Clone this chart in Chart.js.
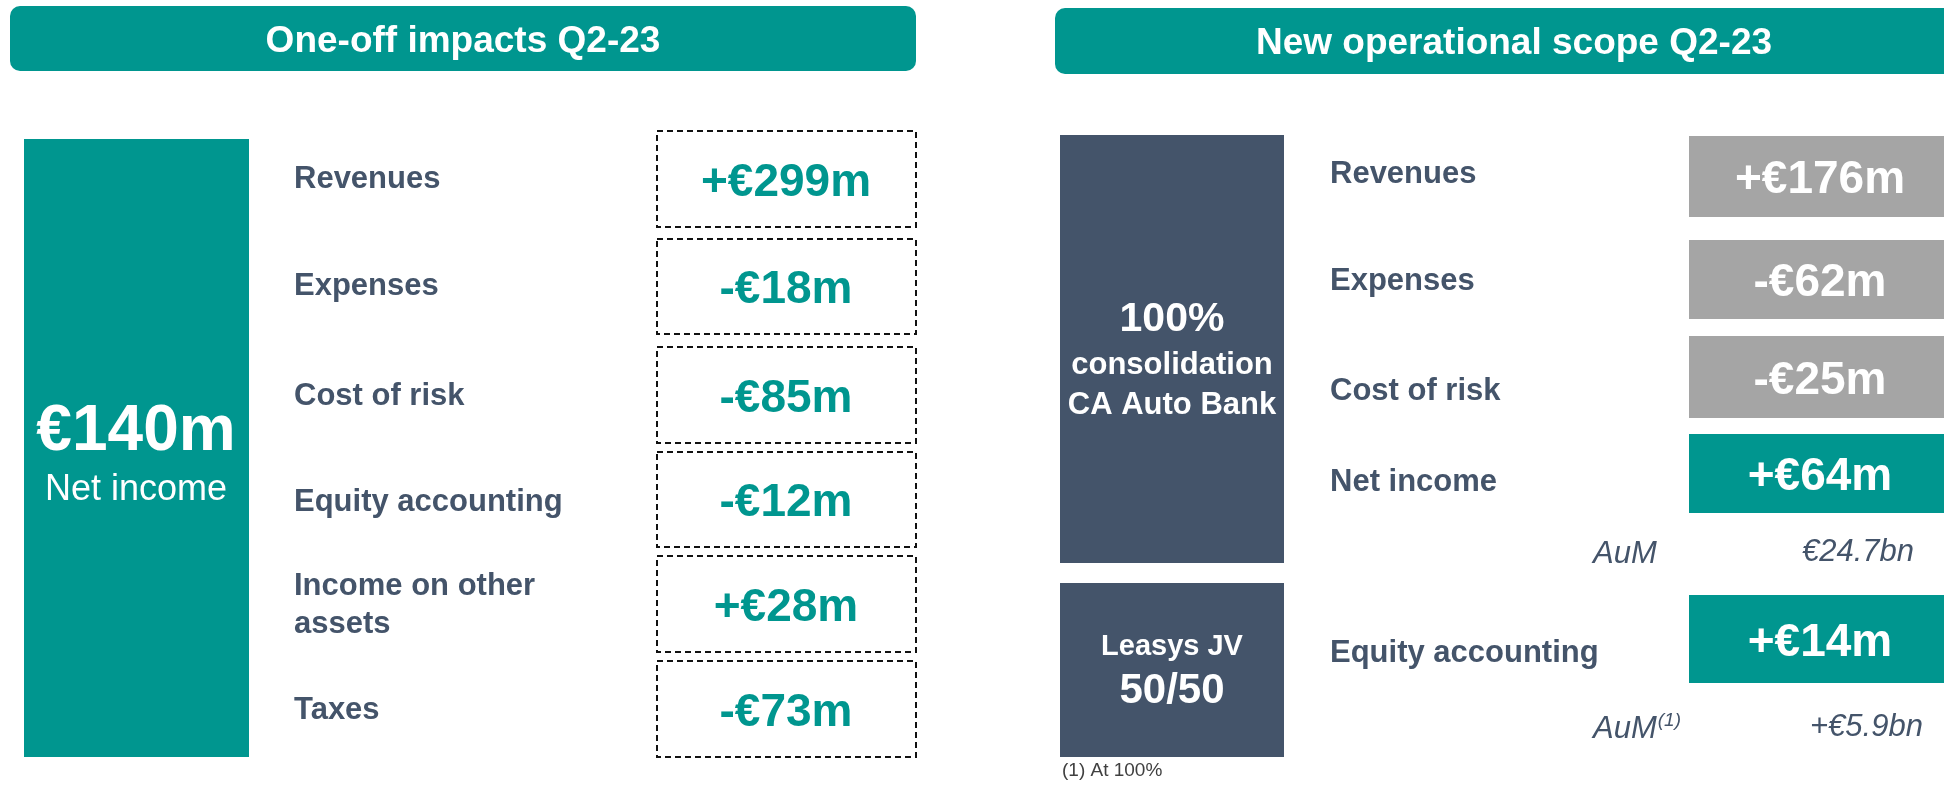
<!DOCTYPE html>
<html>
<head>
<meta charset="utf-8">
<script src="https://cdn.jsdelivr.net/npm/chart.js@4/dist/chart.umd.min.js"></script>
<style>
  html, body { margin: 0; padding: 0; background: #fff; }
  #slide { display: block; }
</style>
</head>
<body>
<canvas id="slide" width="1944" height="786"></canvas>
<script>
// data
const oneOffTitle = "One-off impacts Q2-23";
const oneOffLabels = ["Revenues", "Expenses", "Cost of risk", "Equity accounting", "Income on other\nassets", "Taxes"];
const oneOffValues = [299, -18, -85, -12, 28, -73];
const netIncomeTotal = 140;
const netIncomeLabel = "Net income";

const scopeTitle = "New operational scope Q2-23";
const scopeLabels = ["Revenues", "Expenses", "Cost of risk", "Net income", "Equity accounting"];
const scopeValues = [176, -62, -25, 64, 14];
const scopeKinds = ["pnl", "pnl", "pnl", "result", "result"];
const entityLabels = [["100%", "consolidation", "CA Auto Bank"], ["Leasys JV", "50/50"]];
const aumLabels = ["AuM", "AuM"];
const aumNotes = ["", "(1)"];
const aumValues = ["€24.7bn", "+€5.9bn"];
const footnote = "(1) At 100%";

// layout (page units = pixels of the reference)
const TEAL = "#00968F";
const SLATE = "#44546A";
const GREY = "#A5A5A5";
const FONT = "'Liberation Sans', Arial, sans-serif";

const leftBoxes = [[131, 227], [239, 334], [347, 443], [452, 547], [556, 652], [661, 757]];
const leftBaselines = [[188], [295], [405], [511], [595, 633], [719]];
const rightBoxes = [[136, 217], [240, 319], [336, 418], [434, 513], [595, 683]];
const rightBaselines = [183, 290, 400, 491, 662];
const aumBaselines = [563, 738];

const fmt = v => (v < 0 ? "-" : "+") + "€" + Math.abs(v) + "m";

const slidePlugin = {
  id: "slide",
  afterDraw(chart) {
    const ctx = chart.ctx;
    const xs = chart.scales.x, ys = chart.scales.y;
    const px = v => xs.getPixelForValue(v);
    const py = v => ys.getPixelForValue(v);

    const rect = (x0, y0, x1, y1, color) => {
      ctx.fillStyle = color;
      ctx.fillRect(px(x0), py(y0), px(x1) - px(x0), py(y1) - py(y0));
    };
    const roundRect = (x0, y0, x1, y1, r, color) => {
      ctx.fillStyle = color;
      ctx.beginPath();
      ctx.roundRect(px(x0), py(y0), px(x1) - px(x0), py(y1) - py(y0), r);
      ctx.fill();
    };
    const text = (s, x, y, font, color, align) => {
      ctx.font = font;
      ctx.fillStyle = color;
      ctx.textAlign = align || "left";
      ctx.textBaseline = "alphabetic";
      ctx.fillText(s, px(x), py(y));
    };

    ctx.save();

    // headers
    roundRect(10, 6, 916, 71, 10, TEAL);
    text(oneOffTitle, 463, 52, "bold 37px " + FONT, "#fff", "center");
    roundRect(1055, 8, 1990, 74, 10, TEAL);
    text(scopeTitle, 1514, 54, "bold 37px " + FONT, "#fff", "center");

    // left: net income block
    rect(24, 139, 249, 757, TEAL);
    text(fmt(netIncomeTotal).replace("+", ""), 136, 450, "bold 64px " + FONT, "#fff", "center");
    text(netIncomeLabel, 136, 500, "36px " + FONT, "#fff", "center");

    // left: one-off rows
    oneOffLabels.forEach((lab, i) => {
      lab.split("\n").forEach((line, j) => {
        text(line, 294, leftBaselines[i][j], "bold 31px " + FONT, SLATE);
      });
      const [y0, y1] = leftBoxes[i];
      ctx.strokeStyle = "#111";
      ctx.lineWidth = 2;
      ctx.setLineDash([6, 4]);
      ctx.strokeRect(px(657), py(y0), px(916) - px(657), py(y1) - py(y0));
      ctx.setLineDash([]);
      text(fmt(oneOffValues[i]), 786, (y0 + y1) / 2 + 16.5, "bold 46px " + FONT, TEAL, "center");
    });

    // right: entity blocks
    rect(1060, 135, 1284, 563, SLATE);
    text(entityLabels[0][0], 1172, 331, "bold 41px " + FONT, "#fff", "center");
    text(entityLabels[0][1], 1172, 374, "bold 31px " + FONT, "#fff", "center");
    text(entityLabels[0][2], 1172, 414, "bold 31px " + FONT, "#fff", "center");
    rect(1060, 583, 1284, 757, SLATE);
    text(entityLabels[1][0], 1172, 655, "bold 29px " + FONT, "#fff", "center");
    text(entityLabels[1][1], 1172, 703, "bold 42px " + FONT, "#fff", "center");
    text(footnote, 1062, 776, "19px " + FONT, "#404040");

    // right: scope rows
    scopeLabels.forEach((lab, i) => {
      text(lab, 1330, rightBaselines[i], "bold 31px " + FONT, SLATE);
      const [y0, y1] = rightBoxes[i];
      rect(1689, y0, 1950, y1, scopeKinds[i] === "pnl" ? GREY : TEAL);
      text(fmt(scopeValues[i]), 1820, (y0 + y1) / 2 + 16.5, "bold 46px " + FONT, "#fff", "center");
    });

    // AuM lines
    aumLabels.forEach((lab, i) => {
      const f = "italic 31px " + FONT;
      text(lab, 1593, aumBaselines[i], f, SLATE);
      if (aumNotes[i]) {
        ctx.font = f;
        const w = ctx.measureText(lab).width;
        text(aumNotes[i], 1593 + w + 1, aumBaselines[i] - 12, "italic 19px " + FONT, SLATE);
      }
      text(aumValues[i], i === 0 ? 1802 : 1810, aumBaselines[i] - 2, f, SLATE);
    });

    ctx.restore();
  }
};

new Chart(document.getElementById("slide"), {
  type: "scatter",
  data: { datasets: [{ data: [], pointRadius: 0 }] },
  options: {
    responsive: false,
    animation: false,
    devicePixelRatio: 1,
    layout: { padding: 0 },
    scales: {
      x: { type: "linear", min: 0, max: 1944, display: false },
      y: { type: "linear", min: 0, max: 786, reverse: true, display: false }
    },
    plugins: { legend: { display: false }, tooltip: { enabled: false } }
  },
  plugins: [slidePlugin]
});
</script>
</body>
</html>
